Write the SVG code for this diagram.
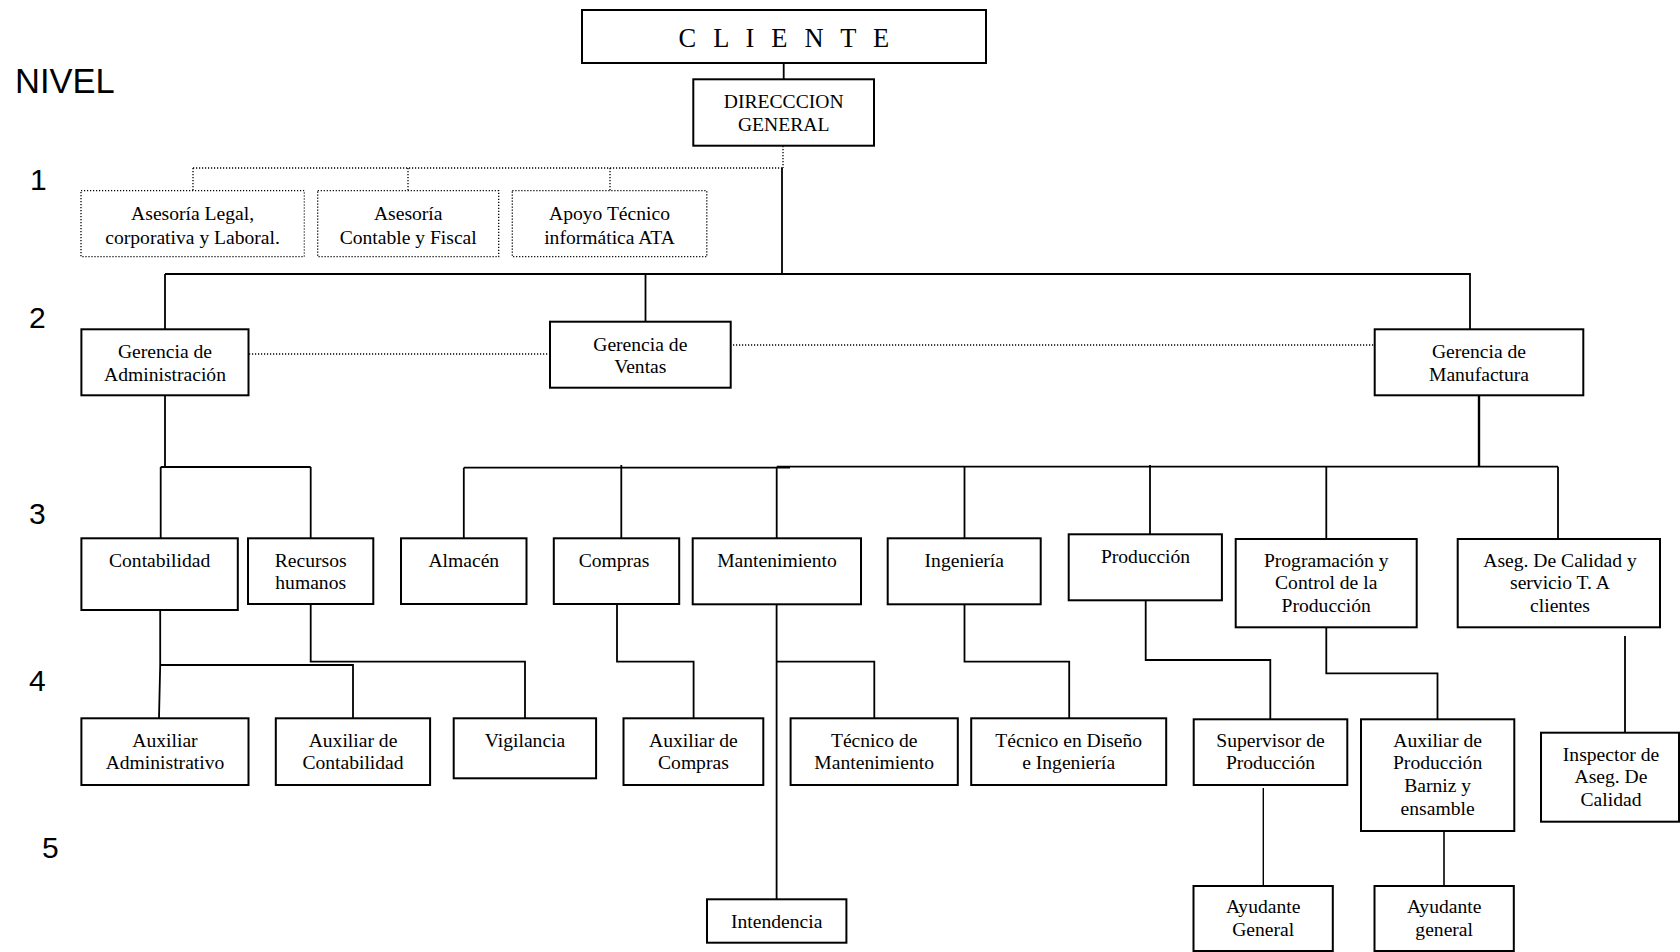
<svg xmlns="http://www.w3.org/2000/svg" width="1680" height="952" viewBox="0 0 1680 952">
  <style>
    .box { fill: #ffffff; stroke: #000000; stroke-width: 2; }
    .dot { fill: #ffffff; stroke: #000000; stroke-width: 1.3; stroke-dasharray: 1.2 1.8; }
    .ln { fill: none; stroke: #000000; stroke-width: 1.8; }
    .dl { fill: none; stroke: #000000; stroke-width: 1.3; stroke-dasharray: 1.2 1.8; }
    .t { font-family: "Liberation Serif", "Times New Roman", serif; font-size: 19.6px; fill: #000000; text-anchor: middle; }
    .lv { font-family: "Liberation Sans", Arial, sans-serif; font-size: 30px; fill: #000000; }
  </style>
  <rect width="1680" height="952" fill="#ffffff"/>

  <!-- level labels -->
  <g id="levels">
    <text class="lv" x="15" y="93" style="font-size:34.5px">NIVEL</text>
    <text class="lv" x="30" y="190">1</text>
    <text class="lv" x="29" y="328">2</text>
    <text class="lv" x="29" y="524">3</text>
    <text class="lv" x="29" y="691">4</text>
    <text class="lv" x="42" y="858">5</text>
  </g>

  <!-- connectors -->
  <g id="connectors">
    <!-- top -->
    <path class="ln" d="M783.7 63 V79"/>
    <path class="dl" d="M783 146 V168"/>
    <path class="dl" d="M193 168 H783 M193 168 V191 M408 168 V191 M610 168 V191"/>
    <path class="ln" d="M782 168 V274"/>
    <!-- level 2 bus -->
    <path class="ln" d="M165 274 H1470 V329 M165 274 V329 M645.5 274 V322"/>
    <path class="dl" d="M249 354 H550 M733 345 H1374"/>
    <!-- administration branch -->
    <path class="ln" d="M165 395 V467 M160.7 467 H310.7 M160.7 467 V538 M310.7 467 V538"/>
    <!-- manufacturing branch -->
    <path class="ln" d="M1479 395 V467" style="stroke-width:2.4"/>
    <path class="ln" d="M463.8 467.7 H790 M776.7 466.7 H1558 M463.8 467.7 V538 M621.3 465 V538 M776.7 466.7 V538 M964.5 466.7 V538 M1150 465 V538 M1326.3 466.7 V539 M1558 466.7 V539"/>
    <!-- level 4 -->
    <path class="ln" d="M160.2 610 V665 M159.5 665 H353 V718 M160.2 665 L159 718"/>
    <path class="ln" d="M310.7 604 V661.7 H525 V718"/>
    <path class="ln" d="M617 604 V661.7 H693.6 V718"/>
    <path class="ln" d="M776.6 604 V899 M776.6 661.7 H874.3 V718"/>
    <path class="ln" d="M964.5 604 V661.7 H1069.2 V718"/>
    <path class="ln" d="M1145.7 600 V660 H1270.3 V719"/>
    <path class="ln" d="M1326.3 627 V673.3 H1437.5 V719"/>
    <path class="ln" d="M1625 636 V733"/>
    <!-- level 5 -->
    <path class="ln" d="M1263.3 788 V886" style="stroke-width:1.4"/>
    <path class="ln" d="M1444 831 V886" style="stroke-width:1.6"/>
  </g>

  <!-- top -->
  <g id="cliente">
    <rect class="box" x="582" y="10" width="404" height="53"/>
    <text class="t" x="678.5" y="47" style="text-anchor:start;font-size:26.5px;letter-spacing:5.2px">C L I E N T E</text>
  </g>
  <g id="direccion-general">
    <rect class="box" x="693.3" y="79.3" width="180.7" height="66.4"/>
    <text class="t" x="783.7" y="107.7">DIRECCCION</text>
    <text class="t" x="783.7" y="130.7">GENERAL</text>
  </g>

  <!-- level 1 (staff) -->
  <g id="asesoria-legal">
    <rect class="dot" x="81" y="190.7" width="223.3" height="66"/>
    <text class="t" x="192.6" y="220">Asesoría Legal,</text>
    <text class="t" x="192.6" y="243.5">corporativa y Laboral.</text>
  </g>
  <g id="asesoria-contable">
    <rect class="dot" x="317.7" y="190.7" width="181" height="66"/>
    <text class="t" x="408.2" y="220">Asesoría</text>
    <text class="t" x="408.2" y="243.5">Contable y Fiscal</text>
  </g>
  <g id="apoyo-tecnico">
    <rect class="dot" x="512.3" y="190.7" width="194.5" height="66"/>
    <text class="t" x="609.5" y="220">Apoyo Técnico</text>
    <text class="t" x="609.5" y="243.5">informática ATA</text>
  </g>

  <!-- level 2 -->
  <g id="gerencia-administracion">
    <rect class="box" x="81.4" y="329.3" width="167.1" height="66"/>
    <text class="t" x="165" y="358.3">Gerencia de</text>
    <text class="t" x="165" y="381">Administración</text>
  </g>
  <g id="gerencia-ventas">
    <rect class="box" x="550" y="321.7" width="180.7" height="66"/>
    <text class="t" x="640.3" y="350.5">Gerencia de</text>
    <text class="t" x="640.3" y="373">Ventas</text>
  </g>
  <g id="gerencia-manufactura">
    <rect class="box" x="1374.7" y="329.3" width="208.6" height="66"/>
    <text class="t" x="1479" y="358.3">Gerencia de</text>
    <text class="t" x="1479" y="381">Manufactura</text>
  </g>

  <!-- level 3 -->
  <g id="contabilidad">
    <rect class="box" x="81.4" y="538.3" width="156.4" height="71.7"/>
    <text class="t" x="159.6" y="566.7">Contabilidad</text>
  </g>
  <g id="recursos-humanos">
    <rect class="box" x="248" y="538.3" width="125.3" height="65.7"/>
    <text class="t" x="310.7" y="566.7">Recursos</text>
    <text class="t" x="310.7" y="589.3">humanos</text>
  </g>
  <g id="almacen">
    <rect class="box" x="401" y="538.3" width="125.5" height="65.7"/>
    <text class="t" x="463.8" y="566.7">Almacén</text>
  </g>
  <g id="compras">
    <rect class="box" x="553.8" y="538.3" width="125.4" height="65.7"/>
    <text class="t" x="614" y="566.7">Compras</text>
  </g>
  <g id="mantenimiento">
    <rect class="box" x="692.7" y="538.3" width="168.3" height="66"/>
    <text class="t" x="777" y="566.7">Mantenimiento</text>
  </g>
  <g id="ingenieria">
    <rect class="box" x="887.7" y="538.3" width="153" height="66"/>
    <text class="t" x="964.3" y="566.7">Ingeniería</text>
  </g>
  <g id="produccion">
    <rect class="box" x="1068.7" y="534.3" width="153.2" height="66"/>
    <text class="t" x="1145.5" y="563.3">Producción</text>
  </g>
  <g id="programacion-control">
    <rect class="box" x="1235.7" y="539" width="181" height="88.3"/>
    <text class="t" x="1326.2" y="566.7">Programación y</text>
    <text class="t" x="1326.2" y="589.3">Control de la</text>
    <text class="t" x="1326.2" y="612">Producción</text>
  </g>
  <g id="aseguramiento-calidad">
    <rect class="box" x="1457.7" y="539" width="202.3" height="88.3"/>
    <text class="t" x="1560" y="566.7">Aseg. De Calidad y</text>
    <text class="t" x="1560" y="589.3">servicio T. A</text>
    <text class="t" x="1560" y="612">clientes</text>
  </g>

  <!-- level 4 -->
  <g id="auxiliar-administrativo">
    <rect class="box" x="81.4" y="718.3" width="167.1" height="66.7"/>
    <text class="t" x="165" y="746.7">Auxiliar</text>
    <text class="t" x="165" y="769.3">Administrativo</text>
  </g>
  <g id="auxiliar-contabilidad">
    <rect class="box" x="275.8" y="718.3" width="154.3" height="66.7"/>
    <text class="t" x="353" y="746.7">Auxiliar de</text>
    <text class="t" x="353" y="769.3">Contabilidad</text>
  </g>
  <g id="vigilancia">
    <rect class="box" x="453.7" y="718.3" width="142.4" height="60"/>
    <text class="t" x="525" y="746.7">Vigilancia</text>
  </g>
  <g id="auxiliar-compras">
    <rect class="box" x="623.5" y="718.3" width="139.8" height="66.7"/>
    <text class="t" x="693.4" y="746.7">Auxiliar de</text>
    <text class="t" x="693.4" y="769.3">Compras</text>
  </g>
  <g id="tecnico-mantenimiento">
    <rect class="box" x="790.6" y="718.3" width="167.2" height="66.7"/>
    <text class="t" x="874.2" y="746.7">Técnico de</text>
    <text class="t" x="874.2" y="769.3">Mantenimiento</text>
  </g>
  <g id="tecnico-diseno">
    <rect class="box" x="971.2" y="718.3" width="195" height="66.7"/>
    <text class="t" x="1068.7" y="746.7">Técnico en Diseño</text>
    <text class="t" x="1068.7" y="769.3">e Ingeniería</text>
  </g>
  <g id="supervisor-produccion">
    <rect class="box" x="1193.7" y="719.3" width="153.6" height="65.7"/>
    <text class="t" x="1270.5" y="746.7">Supervisor de</text>
    <text class="t" x="1270.5" y="769.3">Producción</text>
  </g>
  <g id="auxiliar-produccion">
    <rect class="box" x="1361" y="719.3" width="153.3" height="111.7"/>
    <text class="t" x="1437.6" y="746.7">Auxiliar de</text>
    <text class="t" x="1437.6" y="769.3">Producción</text>
    <text class="t" x="1437.6" y="791.7">Barniz y</text>
    <text class="t" x="1437.6" y="815">ensamble</text>
  </g>
  <g id="inspector-calidad">
    <rect class="box" x="1541" y="732.7" width="138" height="89"/>
    <text class="t" x="1611" y="760.7">Inspector de</text>
    <text class="t" x="1611" y="783.3">Aseg. De</text>
    <text class="t" x="1611" y="806">Calidad</text>
  </g>

  <!-- level 5 -->
  <g id="intendencia">
    <rect class="box" x="707" y="899.3" width="139.4" height="43.4"/>
    <text class="t" x="776.7" y="928.3">Intendencia</text>
  </g>
  <g id="ayudante-general-1">
    <rect class="box" x="1193.5" y="886" width="139.3" height="65"/>
    <text class="t" x="1263.2" y="913.3">Ayudante</text>
    <text class="t" x="1263.2" y="936">General</text>
  </g>
  <g id="ayudante-general-2">
    <rect class="box" x="1374.5" y="886" width="139.3" height="65"/>
    <text class="t" x="1444.2" y="913.3">Ayudante</text>
    <text class="t" x="1444.2" y="936">general</text>
  </g>
</svg>
